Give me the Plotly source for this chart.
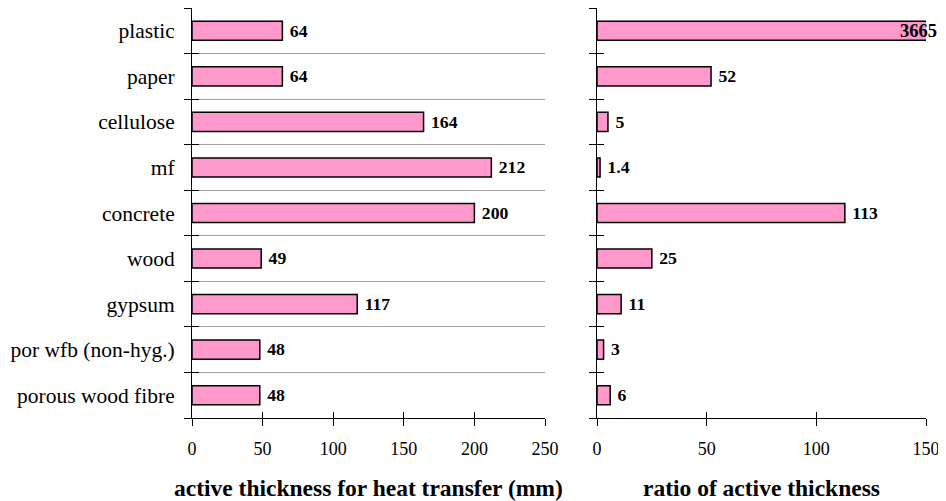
import plotly.graph_objects as go

categories = ["porous wood fibre", "por wfb (non-hyg.)", "gypsum", "wood", "concrete",
              "mf", "cellulose", "paper", "plastic"]
thickness_mm = [48, 48, 117, 49, 200, 212, 164, 64, 64]
ratio_values = [6, 3, 11, 25, 113, 1.4, 5, 52, 3665]
ratio_labels = ["6", "3", "11", "25", "113", "1.4", "5", "52", "3665"]
left_ticks = [0, 50, 100, 150, 200, 250]
right_ticks = [0, 50, 100, 150]

FONT = "Liberation Serif"
PINK = "#ff99cc"
W, H = 938, 493   # page body has 8px margin
OFF = 8


def px(v):
    return (v - OFF) / W


def py(v):
    return 1 - (v - OFF) / H


fig = go.Figure()

fig.add_trace(go.Bar(
    y=categories, x=thickness_mm, orientation="h", xaxis="x", yaxis="y",
    marker=dict(color=PINK, line=dict(color="black", width=1.5)),
    width=0.42, text=[" " + str(v) for v in thickness_mm], textposition="outside",
    textfont=dict(family=FONT, size=18.5, color="black", weight="bold"),
    cliponaxis=False, showlegend=False,
))

right_text = [" " + t if v <= 150 else "" for v, t in zip(ratio_values, ratio_labels)]
fig.add_trace(go.Bar(
    y=categories, x=ratio_values, orientation="h", xaxis="x2", yaxis="y2",
    marker=dict(color=PINK, line=dict(color="black", width=1.5)),
    width=0.42, text=right_text, textposition="outside",
    textfont=dict(family=FONT, size=18.5, color="black", weight="bold"),
    cliponaxis=True, showlegend=False,
))

for v, t, c in zip(ratio_values, ratio_labels, categories):
    if v > 150:
        fig.add_annotation(x=150, y=c, xref="x2", yref="y2", text="<b>%s</b>" % t,
                           showarrow=False, xanchor="right", xshift=13,
                           font=dict(family=FONT, size=18.5, color="black"))

# invisible traces so overlay axes (for crossing ticks) get drawn
fig.add_trace(go.Scatter(x=[], y=[], xaxis="x3", yaxis="y3", showlegend=False))
fig.add_trace(go.Scatter(x=[], y=[], xaxis="x4", yaxis="y4", showlegend=False))

ydom = [py(418), py(8)]
xl_dom = [px(192), px(545)]
xr_dom = [px(597), px(926)]
tickfont = dict(family=FONT, size=18, color="black")
xaxis_common = dict(showline=True, linecolor="black", linewidth=1, ticks="outside",
                    ticklen=7, tickcolor="black", showgrid=False, zeroline=False,
                    tickfont=tickfont, automargin=False, ticklabelstandoff=7)
boundaries = [i - 0.5 for i in range(len(categories) + 1)]
overlay_y = dict(range=[-0.5, len(categories) - 0.5], tickvals=boundaries, ticks="inside",
                 ticklen=7, tickcolor="black", showticklabels=False, showgrid=False,
                 zeroline=False, showline=False, domain=ydom, automargin=False)
overlay_x = dict(ticks="inside", ticklen=6, tickcolor="black", showticklabels=False,
                 showgrid=False, zeroline=False, showline=False, automargin=False)

fig.update_layout(
    width=W, height=H, margin=dict(l=0, r=0, t=0, b=0, autoexpand=False),
    plot_bgcolor="rgba(0,0,0,0)", paper_bgcolor="white", bargap=0.6,
    xaxis=dict(domain=xl_dom, range=[0, 250], tickvals=left_ticks,
               anchor="y", **xaxis_common),
    xaxis2=dict(domain=xr_dom, range=[0, 150], tickvals=right_ticks,
                anchor="y2", **xaxis_common),
    xaxis3=dict(domain=xl_dom, range=[0, 250], tickvals=left_ticks, anchor="y3",
                overlaying="x", **overlay_x),
    xaxis4=dict(domain=xr_dom, range=[0, 150], tickvals=right_ticks, anchor="y4",
                overlaying="x2", **overlay_x),
    yaxis=dict(domain=ydom, anchor="x", showline=True, linecolor="black", linewidth=1,
               ticks="outside", ticklen=7, tickcolor="black", tickson="boundaries",
               showgrid=True, gridcolor="#a0a0a0", gridwidth=1, automargin=False,
               tickfont=dict(family=FONT, size=21.5, color="black"), ticklabelstandoff=12),
    yaxis2=dict(domain=ydom, anchor="x2", showline=True, linecolor="black", linewidth=1,
                ticks="outside", ticklen=7, tickcolor="black", tickson="boundaries",
                showgrid=False, showticklabels=False, automargin=False),
    yaxis3=dict(anchor="x3", overlaying="y", **overlay_y),
    yaxis4=dict(anchor="x4", overlaying="y2", **overlay_y),
)

fig.add_annotation(x=(px(192) + px(545)) / 2, y=py(488), xref="paper", yref="paper",
                   text="<b>active thickness for heat transfer (mm)</b>", showarrow=False,
                   font=dict(family=FONT, size=23.5, color="black"),
                   xanchor="center", yanchor="middle")
fig.add_annotation(x=(px(597) + px(926)) / 2, y=py(488), xref="paper", yref="paper",
                   text="<b>ratio of active thickness</b>", showarrow=False,
                   font=dict(family=FONT, size=23.5, color="black"),
                   xanchor="center", yanchor="middle")

fig.write_html("out.html")
